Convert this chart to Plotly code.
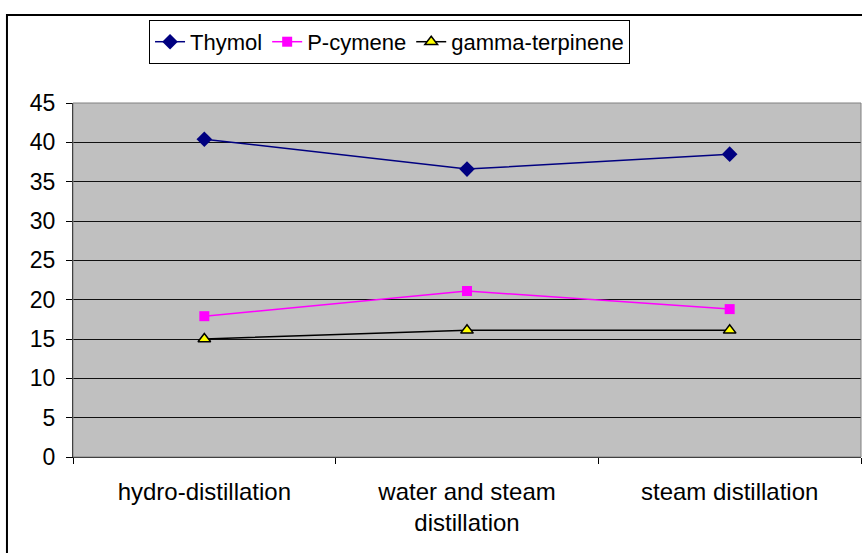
import plotly.graph_objects as go

categories = ["hydro-distillation", "water and steam<br>distillation", "steam distillation"]
thymol = [40.4, 36.6, 38.5]
p_cymene = [17.9, 21.1, 18.8]
gamma_terpinene = [15.0, 16.1, 16.1]
y_ticks = [0, 5, 10, 15, 20, 25, 30, 35, 40, 45]

FONT = "Liberation Sans, Arial, sans-serif"

fig = go.Figure()
fig.add_trace(go.Scatter(
    x=categories, y=thymol, name="Thymol", mode="lines+markers",
    line=dict(color="#000080", width=1.5),
    marker=dict(symbol="diamond", size=12, color="#000080"),
))
fig.add_trace(go.Scatter(
    x=categories, y=p_cymene, name="P-cymene", mode="lines+markers",
    line=dict(color="#FF00FF", width=1.5),
    marker=dict(symbol="square", size=10, color="#FF00FF"),
))
fig.add_trace(go.Scatter(
    x=categories, y=gamma_terpinene, name="gamma-terpinene", mode="lines+markers",
    line=dict(color="#000000", width=1.5),
    marker=dict(symbol="triangle-up", size=11, color="#FFFF00",
                line=dict(color="#000000", width=1.5)),
))

fig.update_layout(
    width=862, height=553,
    margin=dict(l=73, r=1, t=103, b=96, autoexpand=False),
    paper_bgcolor="white",
    plot_bgcolor="#C0C0C0",
    font=dict(family=FONT, size=23, color="black"),
    showlegend=True,
    legend=dict(
        orientation="h", xref="container", yref="container",
        x=0.1729, y=0.9640, xanchor="left", yanchor="top",
        bgcolor="white", bordercolor="black", borderwidth=1,
        font=dict(size=22), tracegroupgap=0,
    ),
    xaxis=dict(
        type="category", tickson="boundaries", ticks="outside", ticklen=6,
        tickcolor="black", showline=True, linecolor="black", linewidth=1,
        showgrid=False, range=[-0.5, 2.5], tickfont=dict(size=24),
        automargin=False, ticklabelstandoff=13,
    ),
    yaxis=dict(
        range=[0, 45], tickvals=y_ticks, ticks="outside", ticklen=6,
        tickcolor="black", showline=True, linecolor="black", linewidth=1,
        showgrid=True, gridcolor="#111111", gridwidth=1, zeroline=False,
        tickfont=dict(size=23), automargin=False, ticklabelstandoff=6,
    ),
    shapes=[
        dict(type="rect", xref="paper", yref="paper", x0=0, x1=1, y0=0, y1=1,
             line=dict(color="#808080", width=1), layer="above"),
        dict(type="rect", xref="paper", yref="paper", x0=-0.0838, x1=1.05,
             y0=-0.5, y1=1.2486, line=dict(color="black", width=2)),
    ],
)

fig.write_html(
    "out.html",
    config={"displayModeBar": False},
    post_script="document.body.style.margin='0';document.body.style.overflow='hidden';",
)
